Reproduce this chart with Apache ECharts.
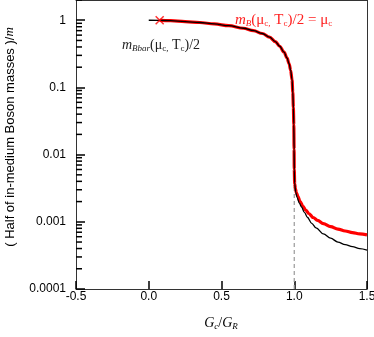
<!DOCTYPE html>
<html><head><meta charset="utf-8">
<script src="https://cdn.jsdelivr.net/npm/echarts@6/dist/echarts.min.js"></script>
<style>html,body{margin:0;padding:0;background:#fff}#c{width:374px;height:337px}</style>
</head><body><div id="c"></div>
<script>
// tick labels
const xTickLabels = ['-0.5', '0.0', '0.5', '1.0', '1.5'];
const yTickLabels = ['0.0001', '0.001', '0.01', '0.1', '1'];
// shared upper branch (both curves coincide)
const commonX = [0.075, 0.15, 0.25, 0.35, 0.45, 0.55, 0.65, 0.72, 0.78, 0.83, 0.87, 0.90, 0.93, 0.95, 0.965, 0.975, 0.985, 0.99, 0.994, 0.997, 0.999, 1.0];
const commonY = [0.995, 0.985, 0.955, 0.925, 0.88, 0.83, 0.76, 0.70, 0.635, 0.56, 0.48, 0.41, 0.335, 0.275, 0.225, 0.18, 0.13, 0.085, 0.05, 0.028, 0.012, 0.006];
// black curve: start segment and tail
const blackHeadX = [0.0];
const blackHeadY = [1.0];
const blackTailX = [1.003, 1.01, 1.02, 1.035, 1.05, 1.07, 1.09, 1.12, 1.15, 1.2, 1.25, 1.3, 1.35, 1.4, 1.45, 1.5];
const blackTailY = [0.0037, 0.00275, 0.00229, 0.0019, 0.00166, 0.00138, 0.00117, 0.00095, 0.00081, 0.00066, 0.00057, 0.0005, 0.000457, 0.000427, 0.0004, 0.00038];
// red curve tail
const redTailX = [1.003, 1.008, 1.015, 1.025, 1.04, 1.06, 1.08, 1.1, 1.13, 1.16, 1.2, 1.25, 1.3, 1.35, 1.4, 1.45, 1.5];
const redTailY = [0.0037, 0.0031, 0.0027, 0.0024, 0.002, 0.0017, 0.00148, 0.00133, 0.00116, 0.00105, 0.00094, 0.00085, 0.00078, 0.00073, 0.00069, 0.00066, 0.00064];
// cross marker
const markerX = [0.075];
const markerY = [1.0];
// dashed guide at x = 1
const guideX = [1.0, 1.0];
const guideY = [0.0001, 0.005];
// minor log ticks on y axis
const yMinorTicks = [];
for (let k = -4; k <= 0; k++) for (let m = 2; m <= 9; m++) { const v = m * Math.pow(10, k); if (v <= 2) yMinorTicks.push(v); }

const zip = (xs, ys) => xs.map((x, i) => [x, ys[i]]);
const blackData = zip(blackHeadX.concat(commonX, blackTailX), blackHeadY.concat(commonY, blackTailY));
const redData = zip(commonX.concat(redTailX), commonY.concat(redTailY));

const chart = echarts.init(document.getElementById('c'));
const serif = '"Liberation Serif", "DejaVu Serif", serif';
const sans = '"Liberation Sans", Arial, sans-serif';
const axisColor = '#333';
const tickColor = '#000';
const frame = () => ({show: true, onZero: false, lineStyle: {color: axisColor, width: 1}});

chart.setOption({
  animation: false,
  grid: {left: 76, right: 7, top: 0, bottom: 48, containLabel: false, outerBoundsMode: 'none'},
  xAxis: [{
    type: 'value', min: -0.5, max: 1.5, interval: 0.5, position: 'bottom',
    axisLine: frame(),
    axisTick: {show: true, inside: true, length: 8, lineStyle: {color: tickColor, width: 1.5}},
    splitLine: {show: false},
    axisLabel: {color: '#000', fontSize: 12, fontFamily: sans, margin: 2,
      formatter: v => xTickLabels[Math.round((v + 0.5) / 0.5)]}
  }, {
    type: 'value', min: -0.5, max: 1.5, interval: 0.5, position: 'top',
    axisLine: frame(), axisTick: {show: false}, axisLabel: {show: false}, splitLine: {show: false}
  }],
  yAxis: [{
    type: 'log', logBase: 10, min: 0.0001, max: 2, position: 'left',
    axisLine: frame(),
    axisTick: {show: true, inside: true, length: 9, lineStyle: {color: tickColor, width: 1.5}},
    splitLine: {show: false},
    axisLabel: {color: '#000', fontSize: 12, fontFamily: sans, margin: 10, showMaxLabel: false,
      formatter: v => { const k = Math.round(Math.log10(v)); return (Math.abs(Math.log10(v) - k) < 1e-6 && k >= -4 && k <= 0) ? yTickLabels[k + 4] : ''; }}
  }, {
    type: 'log', logBase: 10, min: 0.0001, max: 2, position: 'right',
    axisLine: frame(), axisTick: {show: false}, axisLabel: {show: false}, splitLine: {show: false}
  }],
  series: [
    {type: 'custom', data: yMinorTicks.map(v => [-0.5, v]),
      renderItem: (params, api) => {
        const p = api.coord([api.value(0), api.value(1)]);
        return {type: 'line', shape: {x1: p[0], y1: p[1], x2: p[0] + 6, y2: p[1]}, style: {stroke: tickColor, lineWidth: 1.5}};
      }},
    {type: 'line', data: zip(guideX, guideY), symbol: 'none', silent: true,
      lineStyle: {color: '#999', width: 1.2, type: [4, 3]}, z: 2},
    {type: 'line', data: redData, symbol: 'none', smooth: 0.35, smoothMonotone: 'x',
      lineStyle: {color: '#ff0000', width: 3.2}, z: 3},
    {type: 'line', data: blackData, symbol: 'none', smooth: 0.35, smoothMonotone: 'x',
      lineStyle: {color: '#000', width: 1.3}, z: 4},
    {type: 'scatter', data: zip(markerX, markerY), symbol: 'path://M0,0L10,10M10,0L0,10', symbolSize: 8,
      itemStyle: {color: 'rgba(0,0,0,0)', borderColor: '#ff0000', borderWidth: 1.5}, z: 6}
  ],
  graphic: [
    {type: 'text', x: 235, y: 20, style: {
      text: '{mi|m}{sb|B}{n|(μ}{sub|c,}{n| T}{sub|c}{n|)/2 = μ}{sub|c}',
      textVerticalAlign: 'middle', fill: '#ff2020',
      rich: {
        mi: {fontFamily: serif, fontStyle: 'italic', fontSize: 15, fill: '#ff2020'},
        n: {fontFamily: serif, fontSize: 15, fill: '#ff2020'},
        sb: {fontFamily: serif, fontStyle: 'italic', fontSize: 9, padding: [8, 0, 0, 0], fill: '#ff2020'},
        sub: {fontFamily: serif, fontSize: 9, padding: [8, 0, 0, 0], fill: '#ff2020'}
      }}},
    {type: 'text', x: 122, y: 45, style: {
      text: '{mi|m}{sb|Bbar}{n|(μ}{sub|c,}{n| T}{sub|c}{n|)/2}',
      textVerticalAlign: 'middle', fill: '#222',
      rich: {
        mi: {fontFamily: serif, fontStyle: 'italic', fontSize: 14, fill: '#222'},
        n: {fontFamily: serif, fontSize: 14, fill: '#222'},
        sb: {fontFamily: serif, fontStyle: 'italic', fontSize: 9, padding: [8, 0, 0, 0], fill: '#222'},
        sub: {fontFamily: serif, fontSize: 9, padding: [8, 0, 0, 0], fill: '#222'}
      }}},
    {type: 'text', x: 221, y: 323, style: {
      text: '{i|G}{s|c}{n|/}{i|G}{s|R}',
      textAlign: 'center', textVerticalAlign: 'middle', fill: '#000',
      rich: {
        i: {fontFamily: serif, fontStyle: 'italic', fontSize: 14, fill: '#000'},
        n: {fontFamily: serif, fontSize: 14, fill: '#000'},
        s: {fontFamily: serif, fontStyle: 'italic', fontSize: 9, padding: [8, 0, 0, 0], fill: '#000'}
      }}},
    {type: 'text', x: 10, y: 137, rotation: Math.PI / 2, style: {
      text: '{n|( Half of in-medium Boson masses )/}{i|m}',
      textAlign: 'center', textVerticalAlign: 'middle', fill: '#000',
      rich: {
        n: {fontFamily: sans, fontSize: 13, fill: '#000'},
        i: {fontFamily: serif, fontStyle: 'italic', fontSize: 13, fill: '#000'}
      }}}
  ]
});
</script>
</body></html>
